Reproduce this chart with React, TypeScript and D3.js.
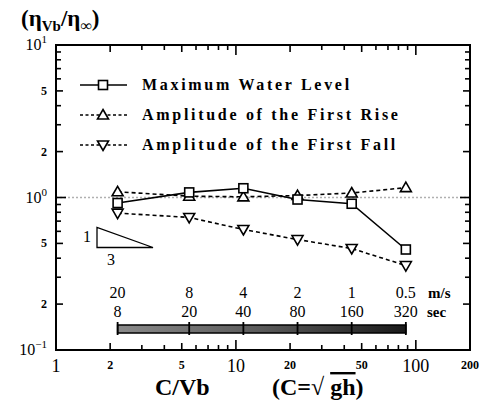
import React from 'react';
import * as d3 from 'd3';

const cvb = [2.2, 5.5, 11, 22, 44, 88];
const maxWater = [0.92, 1.08, 1.15, 0.97, 0.91, 0.456];
const firstRise = [1.09, 1.02, 1.01, 1.03, 1.07, 1.16];
const firstFall = [0.79, 0.74, 0.617, 0.53, 0.463, 0.358];
const speedLabels = ['20', '8', '4', '2', '1', '0.5'];
const periodLabels = ['8', '20', '40', '80', '160', '320'];
const xTickLabels = [1, 2, 5, 10, 20, 50, 100, 200];
const yTickLabels = [0.1, 0.2, 0.5, 1, 2, 5, 10];
const legendNames = ['Maximum Water Level', 'Amplitude of the First Rise', 'Amplitude of the First Fall'];
const slopeTri = { x0: 1.69, x1: 3.46, y0: 0.47, y1: 0.636 };

const W = 489, H = 402;
const L = 56, R = 470, T = 45, B = 350;
const FONT = '"Liberation Serif", "DejaVu Serif", serif';

export default function App() {
  const x = d3.scaleLog().domain([1, 200]).range([L, R]);
  const y = d3.scaleLog().domain([0.1, 10]).range([B, T]);
  const isPow = (v: number) => Math.abs(Math.log10(v) - Math.round(Math.log10(v))) < 1e-9;
  const lead = (v: number) => Math.round(v / Math.pow(10, Math.floor(Math.log10(v) + 1e-9)));
  const tickLen = (v: number) => (isPow(v) ? 10 : lead(v) === 2 || lead(v) === 5 ? 7 : 5);

  const line = d3.line<number>().x((_, i) => x(cvb[i])).y((d) => y(d));
  const sq = (cx: number, cy: number, k: number) => (
    <rect key={k} x={cx - 4.5} y={cy - 4.5} width={9} height={9} fill="#fff" stroke="#000" strokeWidth={1.6} />
  );
  const up = (cx: number, cy: number, k: number) => (
    <path key={k} d={`M${cx},${cy - 5.5}L${cx + 5.5},${cy + 4}L${cx - 5.5},${cy + 4}Z`} fill="#fff" stroke="#000" strokeWidth={1.6} />
  );
  const dn = (cx: number, cy: number, k: number) => (
    <path key={k} d={`M${cx},${cy + 5.5}L${cx + 5.5},${cy - 4}L${cx - 5.5},${cy - 4}Z`} fill="#fff" stroke="#000" strokeWidth={1.6} />
  );

  const xt = x.ticks();
  const yt = y.ticks();

  const barY0 = 325, barY1 = 333;

  return (
    <svg width={W} height={H} style={{ position: 'absolute', left: 0, top: 0, background: '#fff' }} fontFamily={FONT}>
      <defs>
        <linearGradient id="barg" x1="0" x2="1" y1="0" y2="0">
          <stop offset="0" stopColor="#8a8a8a" />
          <stop offset="0.5" stopColor="#5a5a5a" />
          <stop offset="1" stopColor="#1a1a1a" />
        </linearGradient>
      </defs>
      {/* title */}
      <text x={21} y={26} fontSize={23} fontWeight="bold">
        (η<tspan dy={5} fontSize={15}>Vb</tspan>
        <tspan dy={-5}>/η</tspan>
        <tspan dy={5} fontSize={16}>∞</tspan>
        <tspan dy={-5}>)</tspan>
      </text>

      {/* reference line y=1 */}
      <line x1={L} x2={R} y1={y(1)} y2={y(1)} stroke="#b0b0b0" strokeWidth={1.5} strokeDasharray="2,2" />

      {/* frame */}
      <rect x={L} y={T} width={R - L} height={B - T} fill="none" stroke="#000" strokeWidth={2} />
      {xt.map((v, i) => (
        <g key={'xt' + i}>
          <line x1={x(v)} x2={x(v)} y1={B} y2={B - tickLen(v)} stroke="#000" strokeWidth={1.6} />
          <line x1={x(v)} x2={x(v)} y1={T} y2={T + tickLen(v)} stroke="#000" strokeWidth={1.6} />
        </g>
      ))}
      {yt.map((v, i) => (
        <g key={'yt' + i}>
          <line x1={L} x2={L + tickLen(v)} y1={y(v)} y2={y(v)} stroke="#000" strokeWidth={1.6} />
          <line x1={R} x2={R - tickLen(v)} y1={y(v)} y2={y(v)} stroke="#000" strokeWidth={1.6} />
        </g>
      ))}

      {/* y labels */}
      {yTickLabels.map((v, i) =>
        isPow(v) ? (
          <text key={'yl' + i} x={47} y={y(v) + 5} textAnchor="end" fontSize={16}>
            10<tspan dy={-7} fontSize={11}>{String(Math.round(Math.log10(v))).replace('-', '\u2212')}</tspan>
          </text>
        ) : (
          <text key={'yl' + i} x={47} y={y(v) + 4} textAnchor="end" fontSize={12} fontWeight="bold">
            {v >= 1 ? v : lead(v)}
          </text>
        )
      )}

      {/* x labels */}
      {xTickLabels.map((v, i) =>
        isPow(v) ? (
          <text key={'xl' + i} x={x(v)} y={372} textAnchor="middle" fontSize={18}>{v}</text>
        ) : (
          <text key={'xl' + i} x={x(v)} y={369} textAnchor="middle" fontSize={12} fontWeight="bold">{v}</text>
        )
      )}

      {/* axis title */}
      <text x={155} y={395} fontSize={24} fontWeight="bold">C/Vb</text>
      <text x={272} y={395} fontSize={24} fontWeight="bold">
        (C=√ <tspan style={{ textDecoration: 'overline' }}>gh</tspan>)
      </text>

      {/* legend */}
      {legendNames.map((name, i) => {
        const ly = 85 + i * 30;
        return (
          <g key={'lg' + i}>
            <line x1={80} x2={127} y1={ly} y2={ly} stroke="#000" strokeWidth={1.6} strokeDasharray={i === 0 ? undefined : '3,2.5'} />
            {i === 0 ? sq(103, ly, 0) : i === 1 ? up(103, ly, 0) : dn(103, ly, 0)}
            <text x={142} y={ly + 5} fontSize={16} fontWeight="bold" letterSpacing={2.7}>{name}</text>
          </g>
        );
      })}

      {/* data lines */}
      <path d={line(firstRise) || ''} fill="none" stroke="#000" strokeWidth={1.6} strokeDasharray="4,3" />
      <path d={line(firstFall) || ''} fill="none" stroke="#000" strokeWidth={1.6} strokeDasharray="4,3" />
      <path d={line(maxWater) || ''} fill="none" stroke="#000" strokeWidth={1.6} />
      {firstRise.map((v, i) => up(x(cvb[i]), y(v), i))}
      {firstFall.map((v, i) => dn(x(cvb[i]), y(v), i))}
      {maxWater.map((v, i) => sq(x(cvb[i]), y(v), i))}

      {/* slope triangle */}
      <path
        d={`M${x(slopeTri.x0)},${y(slopeTri.y1)}L${x(slopeTri.x0)},${y(slopeTri.y0)}L${x(slopeTri.x1)},${y(slopeTri.y0)}Z`}
        fill="none" stroke="#000" strokeWidth={1.3}
      />
      <text x={x(slopeTri.x0) - 6} y={(y(slopeTri.y0) + y(slopeTri.y1)) / 2 + 5} textAnchor="end" fontSize={16}>1</text>
      <text x={(x(slopeTri.x0) + x(slopeTri.x0) + 28) / 2} y={y(slopeTri.y0) + 17} textAnchor="middle" fontSize={16}>3</text>

      {/* speed / period scale */}
      {speedLabels.map((s, i) => (
        <text key={'sp' + i} x={x(cvb[i])} y={298} textAnchor="middle" fontSize={16}>{s}</text>
      ))}
      <text x={428} y={298} fontSize={15} fontWeight="bold">m/s</text>
      {periodLabels.map((s, i) => (
        <text key={'pe' + i} x={x(cvb[i])} y={317} textAnchor="middle" fontSize={16}>{s}</text>
      ))}
      <text x={427} y={317} fontSize={15} fontWeight="bold">sec</text>
      <rect x={x(cvb[0])} y={barY0} width={x(cvb[cvb.length - 1]) - x(cvb[0])} height={barY1 - barY0} fill="url(#barg)" stroke="#000" strokeWidth={1.5} />
      {cvb.map((v, i) => (
        <line key={'bt' + i} x1={x(v)} x2={x(v)} y1={barY0 - 3} y2={barY1 + 2} stroke="#000" strokeWidth={1.8} />
      ))}
    </svg>
  );
}
